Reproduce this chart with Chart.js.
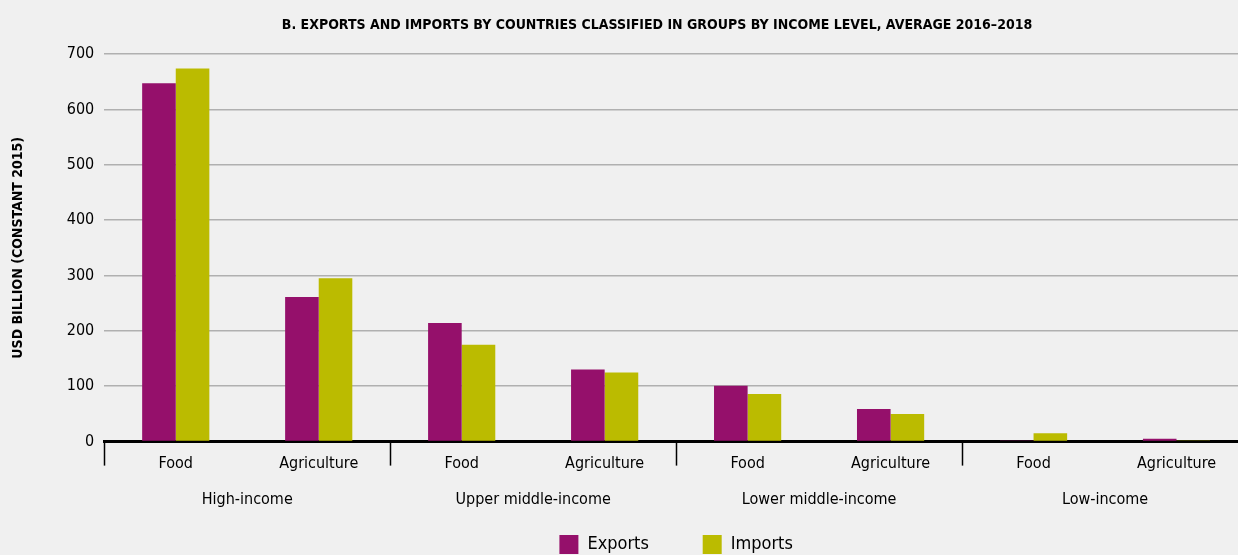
<!DOCTYPE html>
<html>
<head>
<meta charset="utf-8">
<script src="https://cdn.jsdelivr.net/npm/chart.js@4/dist/chart.umd.min.js"></script>
<style>
    html, body {
        margin: 0;
        padding: 0;
        background: #f0f0f0;
        overflow: hidden;
    }
    #wrap {
        width: 1248px;
        height: 555px;
        position: relative;
    }
</style>
</head>
<body>
<div id="wrap"><canvas id="tradeChart"></canvas></div>
<script>
// Income groups and product types on the x axis
const groups = ['High-income', 'Upper middle-income', 'Lower middle-income', 'Low-income'];
const products = ['Food', 'Agriculture', 'Food', 'Agriculture', 'Food', 'Agriculture', 'Food', 'Agriculture'];

// USD billion (constant 2015), average 2016-2018
const exportsValues = [647, 261, 214, 130, 101, 59, 2, 5];
const importsValues = [674, 295, 175, 125, 86, 50, 15, 2];

const yTicks = [0, 100, 200, 300, 400, 500, 600, 700];

const titleText = 'B. EXPORTS AND IMPORTS BY COUNTRIES CLASSIFIED IN GROUPS BY INCOME LEVEL, AVERAGE 2016\u20132018';
const fontFamily = '"DejaVu Sans Condensed", "DejaVu Sans", sans-serif';

// Title drawn by hand so it can sit slightly left of the plot centre,
// plus the short tick marks that split the income groups under the axis
const extrasPlugin = {
    id: 'extras',
    afterDraw(chart) {
        const ctx = chart.ctx;
        const x = chart.scales.x;
        const bottom = chart.chartArea.bottom;

        ctx.save();
        ctx.font = 'bold 14px ' + fontFamily;
        ctx.fillStyle = '#000';
        ctx.textAlign = 'center';
        ctx.textBaseline = 'middle';
        ctx.fillText(titleText, 657, 25);

        const edges = [x.left];
        for (let i = 2; i < products.length; i += 2) {
            edges.push((x.getPixelForValue(i - 1) + x.getPixelForValue(i)) / 2);
        }
        edges.push(x.right);

        ctx.strokeStyle = '#000';
        ctx.lineWidth = 1.5;
        edges.forEach(px => {
            ctx.beginPath();
            ctx.moveTo(Math.round(px) + 0.5, bottom);
            ctx.lineTo(Math.round(px) + 0.5, bottom + 24);
            ctx.stroke();
        });
        ctx.restore();
    }
};

const ctx = document.getElementById('tradeChart').getContext('2d');

new Chart(ctx, {
    type: 'bar',
    data: {
        labels: products,
        datasets: [{
            label: 'Exports',
            data: exportsValues,
            backgroundColor: '#95106b',
            borderWidth: 0
        }, {
            label: 'Imports',
            data: importsValues,
            backgroundColor: '#bbbb00',
            borderWidth: 0
        }]
    },
    options: {
        responsive: true,
        maintainAspectRatio: false,
        animation: false,
        categoryPercentage: 0.47,
        barPercentage: 1.0,
        layout: {
            padding: { top: 54, right: 0, bottom: -9, left: 10 }
        },
        plugins: {
            legend: {
                position: 'bottom',
                fullSize: false,
                labels: {
                    boxWidth: 19,
                    boxHeight: 19,
                    padding: 23,
                    color: '#000',
                    font: { family: fontFamily, size: 18 },
                    // widen the gap between the two entries
                    generateLabels: (chart) => {
                        const items = Chart.defaults.plugins.legend.labels.generateLabels(chart);
                        items.forEach((item, i) => {
                            if (i < items.length - 1) item.text += '      ';
                        });
                        return items;
                    }
                }
            },
            tooltip: { enabled: false }
        },
        scales: {
            x: {
                offset: true,
                grid: { display: false, drawTicks: false },
                border: { display: true, color: '#000', width: 3 },
                ticks: {
                    color: '#000',
                    padding: 13,
                    maxRotation: 0,
                    autoSkip: false,
                    font: { family: fontFamily, size: 16 }
                }
            },
            x2: {
                type: 'category',
                labels: groups,
                position: 'bottom',
                offset: true,
                grid: { display: false, drawTicks: false },
                border: { display: false },
                ticks: {
                    color: '#000',
                    padding: 3,
                    maxRotation: 0,
                    font: { family: fontFamily, size: 16 }
                }
            },
            y: {
                min: 0,
                max: 700,
                afterBuildTicks: (axis) => {
                    axis.ticks = yTicks.map(v => ({ value: v }));
                },
                grid: {
                    color: '#b0b0b0',
                    lineWidth: 1.5,
                    drawTicks: false
                },
                border: { display: false },
                ticks: {
                    color: '#000',
                    padding: 10,
                    font: { family: fontFamily, size: 16 }
                },
                title: {
                    display: true,
                    text: 'USD BILLION (CONSTANT 2015)',
                    color: '#000',
                    padding: { top: 0, bottom: 30 },
                    font: { family: fontFamily, size: 14, weight: 'bold' }
                }
            }
        }
    },
    plugins: [extrasPlugin]
});
</script>
</body>
</html>
